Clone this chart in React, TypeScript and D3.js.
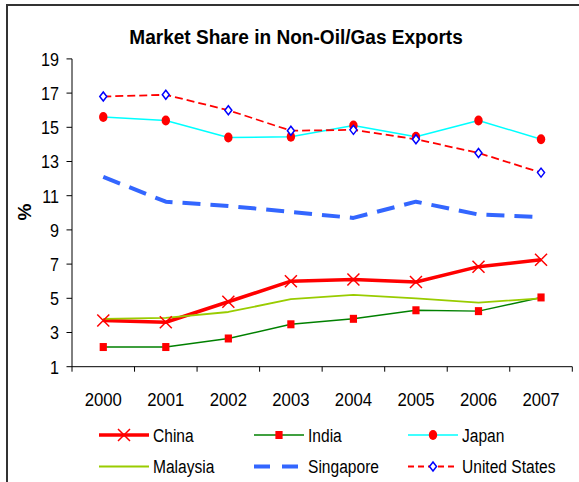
import React from 'react';
import * as d3 from 'd3';

const years = ['2000', '2001', '2002', '2003', '2004', '2005', '2006', '2007'];
const china = [3.7, 3.6, 4.8, 6.0, 6.1, 5.95, 6.85, 7.25];
const india = [2.15, 2.15, 2.65, 3.48, 3.8, 4.3, 4.25, 5.05];
const japan = [15.6, 15.4, 14.4, 14.45, 15.1, 14.45, 15.4, 14.3];
const malaysia = [3.8, 3.85, 4.2, 4.95, 5.2, 5.0, 4.75, 5.0];
const singapore = [12.1, 10.65, 10.4, 10.05, 9.7, 10.65, 9.9, 9.75];
const unitedStates = [16.8, 16.9, 16.0, 14.8, 14.85, 14.3, 13.5, 12.35];
const yTicks = [1, 3, 5, 7, 9, 11, 13, 15, 17, 19];
const title = 'Market Share in Non-Oil/Gas Exports';
const yLabel = '%';

type Marker = 'x' | 'square' | 'circle' | 'diamond' | 'none';
interface Series {
  name: string;
  values: number[];
  color: string;
  width: number;
  dash?: string;
  marker: Marker;
}

const series: Series[] = [
  { name: 'China', values: china, color: '#FF0000', width: 3.5, marker: 'x' },
  { name: 'India', values: india, color: '#008000', width: 1.5, marker: 'square' },
  { name: 'Japan', values: japan, color: '#00FFFF', width: 1.5, marker: 'circle' },
  { name: 'Malaysia', values: malaysia, color: '#99CC00', width: 1.8, marker: 'none' },
  { name: 'Singapore', values: singapore, color: '#3366FF', width: 4, dash: '18,10', marker: 'none' },
  { name: 'United States', values: unitedStates, color: '#FF0000', width: 1.8, dash: '8,4', marker: 'diamond' },
];

const FONT = 'Arial, "Liberation Sans", Helvetica, sans-serif';
const SX = 0.85;

function MarkerShape({ type, cx, cy }: { type: Marker; cx: number; cy: number }) {
  if (type === 'x') {
    const s = 6;
    return (
      <path
        d={`M${cx - s},${cy - s}L${cx + s},${cy + s}M${cx - s},${cy + s}L${cx + s},${cy - s}`}
        stroke="#FF0000"
        strokeWidth={1.5}
        fill="none"
      />
    );
  }
  if (type === 'square') {
    return <rect x={cx - 3.6} y={cy - 4} width={7.2} height={8} fill="#FF0000" />;
  }
  if (type === 'circle') {
    return <ellipse cx={cx} cy={cy} rx={4.2} ry={5} fill="#FF0000" />;
  }
  if (type === 'diamond') {
    return (
      <path
        d={`M${cx},${cy - 4.5}L${cx + 3.5},${cy}L${cx},${cy + 4.5}L${cx - 3.5},${cy}Z`}
        fill="#FFFFFF"
        stroke="#0000FF"
        strokeWidth={1.5}
      />
    );
  }
  return null;
}

export default function App() {
  const W = 579;
  const H = 482;
  const x = d3.scaleBand<string>().domain(years).range([72, 572.3]);
  const y = d3.scaleLinear().domain([1, 19]).range([366.7, 58.9]);
  const cx = (yr: string) => (x(yr) as number) + x.bandwidth() / 2;
  const line = d3
    .line<number>()
    .x((_, i) => cx(years[i]))
    .y((v) => y(v));

  const legendCols = [99, 254, 408];
  const legendRows = [435, 466.5];

  const boundaries = [...years.map((yr) => x(yr) as number), x.range()[1]];

  return (
    <svg
      width={W}
      height={H}
      style={{ position: 'absolute', left: 0, top: 0, background: '#fff' }}
      fontFamily={FONT}
    >
      <rect x={0} y={0} width={W} height={H} fill="#fff" />
      {/* border */}
      <path d={`M7,${H + 5}L7,5L${W + 5},5`} stroke="#333" strokeWidth={2} fill="none" />

      {/* title */}
      <text
        transform="translate(296,43.5) scale(0.93,1)"
        textAnchor="middle"
        fontSize={20.5}
        fontWeight="bold"
        fill="#000"
      >
        {title}
      </text>

      {/* y label */}
      <text
        transform={`translate(31,212) rotate(-90)`}
        textAnchor="middle"
        fontSize={19}
        fontWeight="bold"
        fill="#000"
      >
        {yLabel}
      </text>

      {/* y axis */}
      <line x1={72} x2={72} y1={y(19)} y2={y(1)} stroke="#000" strokeWidth={1} />
      {yTicks.map((t) => (
        <g key={t}>
          <line x1={66.5} x2={72} y1={y(t)} y2={y(t)} stroke="#000" strokeWidth={1} />
          <text
            transform={`translate(59,${y(t) + 6.8}) scale(${SX},1)`}
            textAnchor="end"
            fontSize={19}
            fill="#000"
          >
            {t}
          </text>
        </g>
      ))}

      {/* x axis */}
      <line x1={72} x2={x.range()[1]} y1={y(1)} y2={y(1)} stroke="#000" strokeWidth={1} />
      {boundaries.map((b, i) => (
        <line key={i} x1={b} x2={b} y1={y(1)} y2={y(1) + 5} stroke="#000" strokeWidth={1} />
      ))}
      {years.map((yr) => (
        <text
          key={yr}
          transform={`translate(${cx(yr)},405.5) scale(0.88,1)`}
          textAnchor="middle"
          fontSize={19}
          fill="#000"
        >
          {yr}
        </text>
      ))}

      {/* series lines */}
      {series.map((s) => (
        <path
          key={s.name}
          d={line(s.values) || ''}
          fill="none"
          stroke={s.color}
          strokeWidth={s.width}
          strokeDasharray={s.dash}
          strokeLinejoin="round"
        />
      ))}
      {/* markers */}
      {series.map((s) =>
        s.values.map((v, i) => (
          <MarkerShape key={`${s.name}-${i}`} type={s.marker} cx={cx(years[i])} cy={y(v)} />
        ))
      )}

      {/* legend */}
      {series.map((s, i) => {
        const lx = legendCols[i % 3];
        const ly = legendRows[Math.floor(i / 3)];
        return (
          <g key={`leg-${s.name}`}>
            <line
              x1={lx}
              x2={lx + 50}
              y1={ly}
              y2={ly}
              stroke={s.color}
              strokeWidth={s.width}
              strokeDasharray={s.dash === '18,10' ? '16,12' : s.dash ? '6,4' : undefined}
            />
            <MarkerShape type={s.marker} cx={lx + 25} cy={ly} />
            <text
              transform={`translate(${lx + 54},${ly + 6.8}) scale(0.82,1)`}
              fontSize={19}
              fill="#000"
            >
              {s.name}
            </text>
          </g>
        );
      })}
    </svg>
  );
}
